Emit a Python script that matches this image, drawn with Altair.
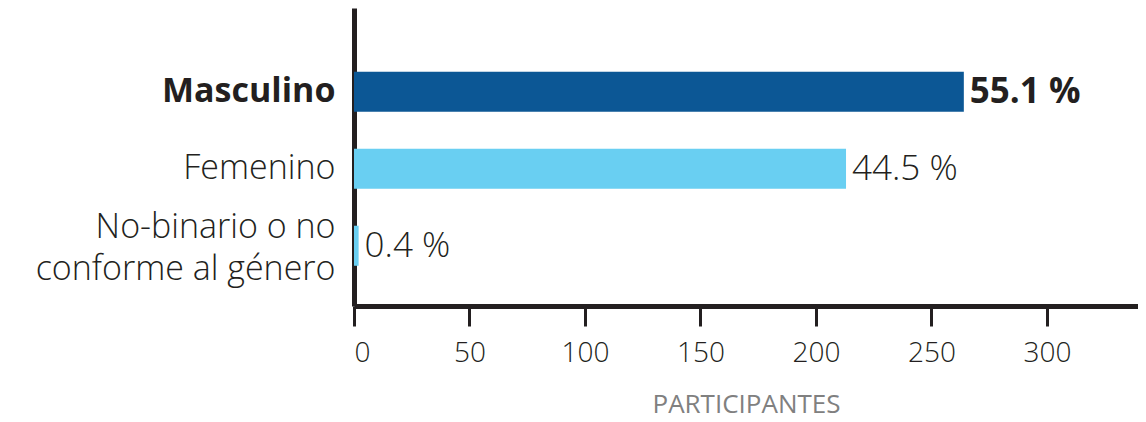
import altair as alt
import pandas as pd

categories = ["Masculino", "Femenino", "No-binario o no conforme al género"]
counts = [264, 213, 2]
pct_labels = ["55.1 %", "44.5 %", "0.4 %"]

df = pd.DataFrame({"cat": categories, "n": counts, "pct": pct_labels})

FONT = "Open Sans"
DARK = "#231f20"

y_enc = alt.Y(
    "cat:N",
    sort=categories,
    title=None,
    scale=alt.Scale(paddingInner=0.48, paddingOuter=0.675, align=0.613),
    axis=alt.Axis(
        ticks=False,
        domainWidth=5,
        domainColor=DARK,
        labelFont=FONT,
        labelFontSize=34,
        labelColor=DARK,
        labelPadding=19,
        labelLimit=400,
        labelLineHeight=42,
        labelOffset=alt.ExprRef(expr="datum.value == 'No-binario o no conforme al género' ? -18 : 0"),
        labelFontWeight=alt.ExprRef(expr="datum.value == 'Masculino' ? 700 : 300"),
        labelExpr="datum.value == 'No-binario o no conforme al género' ? ['No-binario o no', 'conforme al género'] : datum.label",
    ),
)

x_enc = alt.X(
    "n:Q",
    title="PARTICIPANTES",
    scale=alt.Scale(domain=[0, 339.4], nice=False),
    axis=alt.Axis(
        values=[0, 50, 100, 150, 200, 250, 300],
        grid=False,
        domainWidth=5,
        domainColor=DARK,
        tickWidth=3,
        tickSize=20,
        tickColor=DARK,
        labelFont=FONT,
        labelFontSize=28,
        labelColor=DARK,
        labelPadding=13,
        labelFontWeight=300,
        titleFont=FONT,
        titleFontSize=26,
        titleFontWeight=400,
        titleColor="#808080",
        titlePadding=24,
    ),
)

base = alt.Chart(df)

bars = base.mark_bar().encode(
    x=x_enc,
    y=y_enc,
    color=alt.Color(
        "cat:N",
        scale=alt.Scale(domain=categories, range=["#0c5795", "#69cff2", "#69cff2"]),
        legend=None,
    ),
)

text_bold = base.transform_filter("datum.cat == 'Masculino'").mark_text(
    align="left", baseline="middle", dx=6, font=FONT, fontSize=35, fontWeight=700, color=DARK
).encode(x="n:Q", y=alt.Y("cat:N", sort=categories), text="pct:N")

text_light = base.transform_filter("datum.cat != 'Masculino'").mark_text(
    align="left", baseline="middle", dx=6, font=FONT, fontSize=35, fontWeight=300, color=DARK
).encode(x="n:Q", y=alt.Y("cat:N", sort=categories), text="pct:N")

chart = (
    alt.layer(bars, text_bold, text_light)
    .properties(
        width=784,
        height=298,
        autosize=alt.AutoSizeParams(type="none"),
        padding={"left": 346, "top": 0, "right": 0, "bottom": 114},
    )
    .configure_view(stroke=None)
)

chart.save("out.html", embed_options={"renderer": "svg", "actions": False})
